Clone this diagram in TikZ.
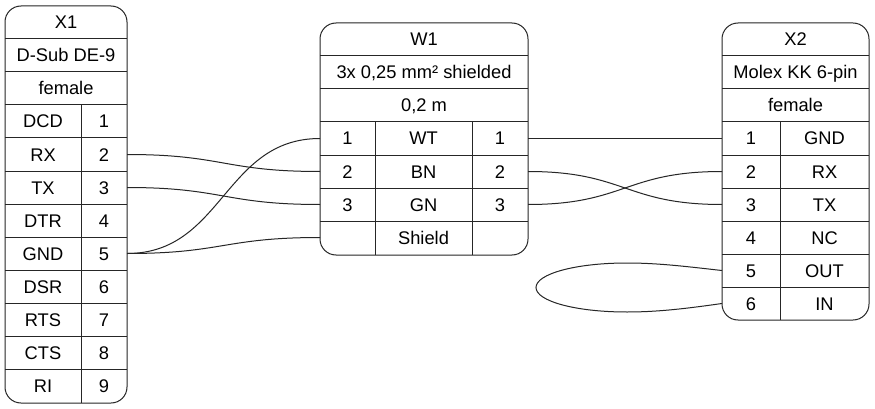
\documentclass[tikz,border=0pt]{standalone}
\usepackage{fontspec}
\setmainfont{Liberation Sans}
\begin{document}
\begin{tikzpicture}[x=1pt,y=-1pt,
  line width=1pt,
  cell/.style={inner sep=0pt,outer sep=0pt,text height=13pt,text depth=0pt,minimum height=33pt,font=\fontsize{18.3}{20}\selectfont},
  grid/.style={draw=black!85},
  wire/.style={draw=black!85}]
\useasboundingbox (0,0) rectangle (875,409);
\fill[white] (0,0) rectangle (875,409);
% X1
\node[cell,minimum width=122pt] (x1t) at (66,22.5) {X1};
\node[cell,minimum width=122pt] (x1m) at (66,55.5) {D-Sub DE-9};
\node[cell,minimum width=122pt] (x1g) at (66,88.5) {female};
\foreach \n/\lab [count=\i from 0] in {1/DCD,2/RX,3/TX,4/DTR,5/GND,6/DSR,7/RTS,8/CTS,9/RI}{
  \node[cell,minimum width=76pt] (x1n\n) at (43,121.5+33*\i) {\lab};
  \node[cell,minimum width=46pt] (x1p\n) at (104,121.5+33*\i) {\n};
}
\draw[grid,rounded corners=16pt] (5,6) rectangle (127,403);
\foreach \y in {39,72,105,138,171,204,237,270,303,336,369} \draw[grid] (5,\y) -- (127,\y);
\draw[grid] (81,105) -- (81,403);
% W1
\node[cell,minimum width=208pt] (w1t) at (424,39.5) {W1};
\node[cell,minimum width=208pt] (w1m) at (424,72.5) {3x 0,25 mm² shielded};
\node[cell,minimum width=208pt] (w1l) at (424,105.5) {0,2 m};
\foreach \n/\c [count=\i from 0] in {1/WT,2/BN,3/GN}{
  \node[cell,minimum width=55pt] (w1a\n) at (347.5,138.5+33*\i) {\n};
  \node[cell,minimum width=97pt] (w1c\n) at (423.5,138.5+33*\i) {\c};
  \node[cell,minimum width=56pt] (w1b\n) at (500,138.5+33*\i) {\n};
}
\node[cell,minimum width=55pt] (w1as) at (347.5,237.5) {};
\node[cell,minimum width=97pt] (w1cs) at (423.5,237.5) {Shield};
\draw[grid,rounded corners=16pt] (320,23) rectangle (528,255);
\foreach \y in {56,89,122,155,188,221} \draw[grid] (320,\y) -- (528,\y);
\draw[grid] (375,122) -- (375,255) (472,122) -- (472,255);
% X2
\node[cell,minimum width=147pt] (x2t) at (795.5,39.5) {X2};
\node[cell,minimum width=147pt] (x2m) at (795.5,72.5) {Molex KK 6-pin};
\node[cell,minimum width=147pt] (x2g) at (795.5,105.5) {female};
\foreach \n/\lab [count=\i from 0] in {1/GND,2/RX,3/TX,4/NC,5/OUT,6/IN}{
  \node[cell,minimum width=58pt] (x2p\n) at (751,138.5+33*\i) {\n};
  \node[cell,minimum width=89pt] (x2n\n) at (824.5,138.5+33*\i) {\lab};
}
\draw[grid,rounded corners=16pt] (722,23) rectangle (869,320);
\foreach \y in {56,89,122,155,188,221,254,287} \draw[grid] (722,\y) -- (869,\y);
\draw[grid] (780,122) -- (780,320);
% connectors
\draw[wire] (x1p2.east) .. controls (223,154.5) and (224,171.5) .. (w1a2.west);
\draw[wire] (x1p3.east) .. controls (223,187.5) and (224,204.5) .. (w1a3.west);
\draw[wire] (x1p5.east) .. controls (223,253.5) and (224,138.5) .. (w1a1.west);
\draw[wire] (x1p5.east) .. controls (223,253.5) and (224,237.5) .. (w1as.west);
\draw[wire] (w1b1.east) -- (x2p1.west);
\draw[wire] (w1b2.east) .. controls (625,171.5) and (625,204.5) .. (x2p3.west);
\draw[wire] (w1b3.east) .. controls (625,204.5) and (625,171.5) .. (x2p2.west);
\coordinate (loopl) at (536,287.5);
\coordinate (loopt) at (627,263);
\coordinate (loopb) at (627,312);
\draw[wire] (x2p5.west) .. controls (690,267) and (660,263) .. (loopt)
  .. controls (575,263) and (536,274) .. (loopl)
  .. controls (536,301) and (575,312) .. (loopb)
  .. controls (660,312) and (690,308) .. (x2p6.west);
\end{tikzpicture}
\end{document}
